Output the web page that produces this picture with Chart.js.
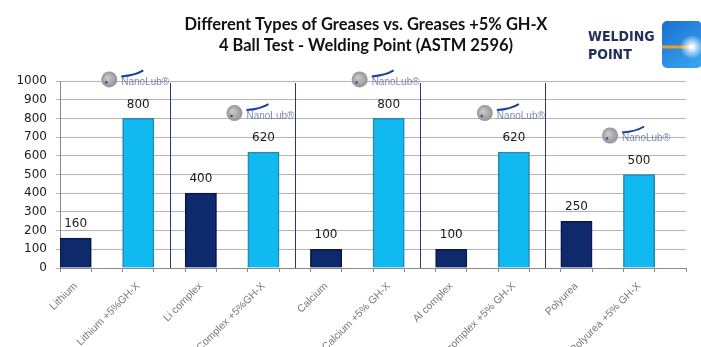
<!DOCTYPE html>
<html>
<head>
<meta charset="utf-8">
<script src="https://cdn.jsdelivr.net/npm/chart.js@4"></script>
<style>
html,body{margin:0;padding:0;background:#fff;}
#wrap{width:701px;height:347px;position:relative;}
</style>
</head>
<body>
<div id="wrap"><canvas id="c" width="701" height="347"></canvas></div>
<script>
const titleLines = ["Different Types of Greases vs. Greases +5% GH-X", "4 Ball Test - Welding Point (ASTM 2596)"];
const categories = ["Lithium", "Lithium +5%GH-X", "Li complex", "Li Complex +5%GH-X", "Calcium", "Calcium +5% GH-X", "Al complex", "Al complex +5% GH-X", "Polyurea", "Polyurea +5% GH-X"];
const values = [160, 800, 400, 620, 100, 800, 100, 620, 250, 500];
const yTickValues = [0, 100, 200, 300, 400, 500, 600, 700, 800, 900, 1000];

// each category gets its bar slot plus an empty spacer slot
const slotLabels = categories.flatMap(c => [c, ""]);
const slotValues = values.flatMap(v => [v, null]);
const slotColors = categories.flatMap((c, i) => [i % 2 === 0 ? "#0f2a6c" : "#10baf0", "rgba(0,0,0,0)"]);
const slotBorders = categories.flatMap((c, i) => [i % 2 === 0 ? "#08164a" : "#2a86ab", "rgba(0,0,0,0)"]);

const overlay = {
  id: "overlay",
  afterDatasetsDraw(chart) {
    const ctx = chart.ctx;
    const xs = chart.scales.x, ys = chart.scales.y;
    const area = chart.chartArea;
    ctx.save();
    // separators between greases
    ctx.strokeStyle = "#27377a";
    ctx.lineWidth = 1;
    for (let k = 1; k < categories.length / 2; k++) {
      const x = Math.round(xs.getPixelForValue(4 * k - 1)) + 0.5;
      ctx.beginPath();
      ctx.moveTo(x, area.top + 2);
      ctx.lineTo(x, area.bottom);
      ctx.stroke();
    }
    // value labels
    ctx.font = "12px 'DejaVu Sans'";
    ctx.fillStyle = "#1a1a1a";
    ctx.textAlign = "center";
    ctx.textBaseline = "middle";
    values.forEach((v, i) => {
      const x = xs.getPixelForValue(2 * i);
      const y = ys.getPixelForValue(v);
      ctx.fillText(String(v), x, y - 14);
    });
    // NanoLub logos above the GH-X bars
    values.forEach((v, i) => {
      if (i % 2 === 0) return;
      const cx = xs.getPixelForValue(2 * i) - 29;
      const cy = ys.getPixelForValue(v) - 39;
      const g = ctx.createRadialGradient(cx - 2, cy - 2, 1, cx, cy, 8);
      g.addColorStop(0, "#c8c8c8");
      g.addColorStop(1, "#939393");
      ctx.fillStyle = g;
      ctx.beginPath(); ctx.arc(cx, cy, 8, 0, Math.PI * 2); ctx.fill();
      ctx.fillStyle = "#2b55b0";
      ctx.beginPath(); ctx.arc(cx - 3, cy + 3, 1.3, 0, Math.PI * 2); ctx.fill();
      ctx.strokeStyle = "#1c3fa0";
      ctx.lineWidth = 2;
      ctx.beginPath();
      ctx.moveTo(cx + 12, cy - 3);
      ctx.quadraticCurveTo(cx + 26, cy - 4, cx + 34, cy - 9);
      ctx.stroke();
      ctx.font = "10px 'Liberation Sans'";
      ctx.textAlign = "left";
      ctx.fillStyle = "rgba(70,90,140,0.7)";
      ctx.fillText("NanoLub\u00AE", cx + 12, cy + 3);
    });
    ctx.restore();
  },
  afterDraw(chart) {
    const ctx = chart.ctx;
    ctx.save();
    ctx.fillStyle = "#111";
    ctx.textAlign = "center";
    ctx.textBaseline = "alphabetic";
    ctx.font = "bold 16.5px Lato";
    ctx.fillText(titleLines[0], 366, 30);
    ctx.fillText(titleLines[1], 366, 51);
    // WELDING POINT badge
    ctx.textAlign = "left";
    ctx.fillStyle = "#22305e";
    ctx.font = "bold 14px 'DejaVu Sans Condensed'";
    ctx.fillText("WELDING", 588, 41);
    ctx.fillText("POINT", 588, 59);
    const bx = 662, by = 21, bw = 40, bh = 47;
    const bg = ctx.createLinearGradient(bx, by, bx + bw, by + bh);
    bg.addColorStop(0, "#1a6fd0");
    bg.addColorStop(1, "#3aa8f0");
    ctx.fillStyle = bg;
    ctx.beginPath();
    ctx.roundRect(bx, by, bw, bh, 5);
    ctx.fill();
    ctx.strokeStyle = "#f0a020";
    ctx.lineWidth = 3;
    ctx.beginPath(); ctx.moveTo(bx, by + 26); ctx.lineTo(bx + 28, by + 26); ctx.stroke();
    const fl = ctx.createRadialGradient(bx + 30, by + 26, 1, bx + 30, by + 26, 12);
    fl.addColorStop(0, "rgba(255,255,255,1)");
    fl.addColorStop(1, "rgba(255,255,255,0)");
    ctx.fillStyle = fl;
    ctx.beginPath(); ctx.arc(bx + 30, by + 26, 12, 0, Math.PI * 2); ctx.fill();
    ctx.restore();
  }
};

new Chart(document.getElementById("c"), {
  type: "bar",
  data: {
    labels: slotLabels,
    datasets: [{
      data: slotValues,
      backgroundColor: slotColors,
      borderColor: slotBorders,
      borderWidth: 1.5,
      barPercentage: 1,
      categoryPercentage: 1
    }]
  },
  options: {
    responsive: false,
    animation: false,
    devicePixelRatio: 1,
    layout: { padding: { top: 81, right: 15, left: 0, bottom: 0 } },
    plugins: { legend: { display: false }, tooltip: { enabled: false }, title: { display: false } },
    scales: {
      x: {
        offset: true,
        grid: { display: true, drawOnChartArea: false, drawTicks: true, tickLength: 4, color: "#8a8a8a", offset: true },
        border: { color: "#8a8a8a" },
        ticks: {
          autoSkip: false, minRotation: 45, maxRotation: 45, padding: 8,
          font: { family: "'Liberation Sans'", size: 10.5 }, color: "#7a7a7a"
        },
        afterFit(axis) { axis.height = 79; }
      },
      y: {
        min: 0, max: 1000,
        afterBuildTicks(axis) { axis.ticks = yTickValues.map(v => ({ value: v })); },
        grid: { color: "#b4b4b4", tickLength: 4 },
        border: { color: "#8a8a8a" },
        ticks: { font: { family: "'DejaVu Sans'", size: 12 }, color: "#1a1a1a", padding: 9, callback: v => String(v) },
        afterFit(axis) { axis.width = 60; }
      }
    }
  },
  plugins: [overlay]
});
</script>
</body>
</html>
